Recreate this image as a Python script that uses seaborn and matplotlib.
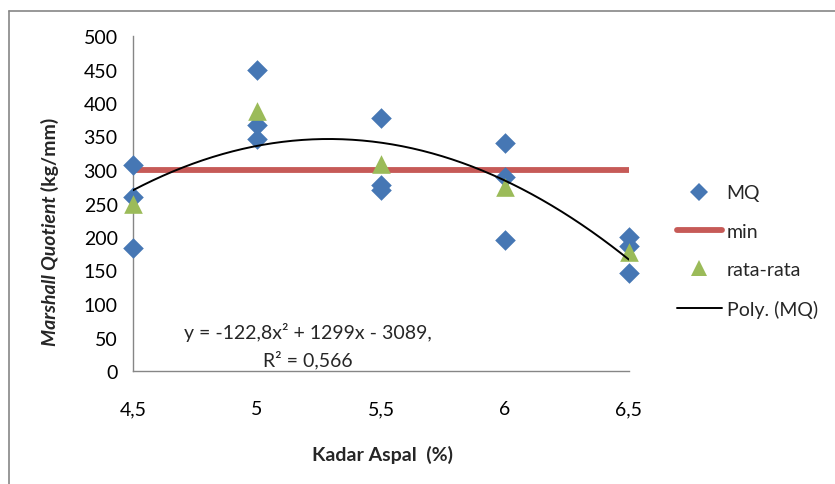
import numpy as np
import pandas as pd
import matplotlib
matplotlib.use("Agg")
import matplotlib.pyplot as plt
from matplotlib.lines import Line2D
import seaborn as sns

# Kadar aspal (%) and Marshall Quotient (kg/mm) of each specimen
kadar_aspal = [4.5, 4.5, 4.5, 5.0, 5.0, 5.0, 5.5, 5.5, 5.5, 6.0, 6.0, 6.0, 6.5, 6.5, 6.5]
mq_values = [307, 260, 184, 450, 367, 346, 378, 278, 270, 340, 290, 195, 200, 186, 146]

# average per asphalt content
kadar_rata = [4.5, 5.0, 5.5, 6.0, 6.5]
mq_rata = [250, 388, 309, 275, 177]

# minimum specification
mq_min = 300

# second-order trendline: y = a x^2 + b x + c
poly_coef = [-122.8, 1299, -3089]
r_squared = 0.566

x_ticks = [4.5, 5.0, 5.5, 6.0, 6.5]
x_ticklabels = ["4,5", "5", "5,5", "6", "6,5"]
y_ticks = list(range(0, 501, 50))

sns.set_theme(style="white")
plt.rcParams["font.family"] = ["Lato", "DejaVu Sans"]

blue = "#4677B4"
green = "#9BBB59"
red = "#C65A57"
axis_gray = "#868686"
fs = 14

fig = plt.figure(figsize=(8.35, 4.85), dpi=100)
ax = fig.add_axes([133 / 835, 1 - 372 / 485, (629 - 133) / 835, (372 - 37) / 485])

df_mq = pd.DataFrame({"kadar": kadar_aspal, "mq": mq_values})
df_avg = pd.DataFrame({"kadar": kadar_rata, "mq": mq_rata})
df_min = pd.DataFrame({"kadar": [x_ticks[0], x_ticks[-1]], "mq": [mq_min, mq_min]})
x_fit = np.linspace(x_ticks[0], x_ticks[-1], 200)
df_fit = pd.DataFrame({"kadar": x_fit, "mq": np.polyval(poly_coef, x_fit)})

sns.lineplot(data=df_min, x="kadar", y="mq", ax=ax, color=red, lw=4.2, zorder=2)
sns.scatterplot(data=df_mq, x="kadar", y="mq", ax=ax, marker="D", s=110,
                color=blue, linewidth=0, zorder=3, clip_on=False)
sns.scatterplot(data=df_avg, x="kadar", y="mq", ax=ax, marker="^", s=180,
                color=green, linewidth=0, zorder=4, clip_on=False)
sns.lineplot(data=df_fit, x="kadar", y="mq", ax=ax, color="black", lw=1.4, zorder=5)

ax.set_xlim(x_ticks[0], x_ticks[-1])
ax.set_ylim(0, 500)
ax.set_xticks(x_ticks)
ax.set_xticklabels(x_ticklabels)
ax.set_yticks(y_ticks)
ax.set_yticklabels([str(v) for v in y_ticks])
ax.tick_params(axis="both", direction="out", length=5, width=1, color=axis_gray,
               labelsize=fs, labelcolor="black")
ax.tick_params(axis="x", pad=16)
ax.tick_params(axis="y", pad=6)
for side in ["top", "right"]:
    ax.spines[side].set_visible(False)
for side in ["left", "bottom"]:
    ax.spines[side].set_color(axis_gray)
    ax.spines[side].set_linewidth(1)
ax.set_xlabel("")
ax.set_ylabel("")
ax.patch.set_alpha(0)

# axis titles
fig.text(382 / 835, 1 - 455 / 485, "Kadar Aspal  (%)", ha="center", va="center",
         fontsize=fs, fontweight="bold")
split_y = 1 - 196 / 485
fig.text(50 / 835, split_y, "Marshall Quotient", rotation=90, ha="center", va="top",
         fontsize=fs, fontweight="bold", fontstyle="italic")
fig.text(50 / 835, split_y, " (kg/mm)", rotation=90, ha="center", va="bottom",
         fontsize=fs, fontweight="bold")

# trendline equation
eq1 = "y = -{:.1f}x² + {:d}x - {:d},".format(-poly_coef[0], poly_coef[1], -poly_coef[2]).replace(".", ",")
eq2 = "R² = {:.3f}".format(r_squared).replace(".", ",")
ax.text(308 / 835, 1 - 333 / 485, eq1, transform=fig.transFigure, ha="center",
        va="center", fontsize=fs)
ax.text(308 / 835, 1 - 360 / 485, eq2, transform=fig.transFigure, ha="center",
        va="center", fontsize=fs)

# legend
handles = [
    Line2D([], [], ls="none", marker="D", markersize=9, color=blue, markeredgewidth=0),
    Line2D([], [], color=red, lw=4.2),
    Line2D([], [], ls="none", marker="^", markersize=12, color=green, markeredgewidth=0),
    Line2D([], [], color="black", lw=1.4),
]
labels = ["MQ", "min", "rata-rata", "Poly. (MQ)"]
fig.legend(handles, labels, loc="center left", bbox_to_anchor=(677 / 835, 1 - 252 / 485),
           frameon=False, fontsize=fs, handlelength=2.3, handletextpad=0.25,
           labelspacing=1.1, borderpad=0, borderaxespad=0)

# chart area border
fig.add_artist(Line2D([9 / 835, 9 / 835], [0, 1 - 12 / 485], transform=fig.transFigure,
                      color=axis_gray, lw=1.2))
fig.add_artist(Line2D([9 / 835, 1], [1 - 12 / 485, 1 - 12 / 485], transform=fig.transFigure,
                      color=axis_gray, lw=1.2))

fig.savefig("out.png", dpi=100, facecolor="white")
